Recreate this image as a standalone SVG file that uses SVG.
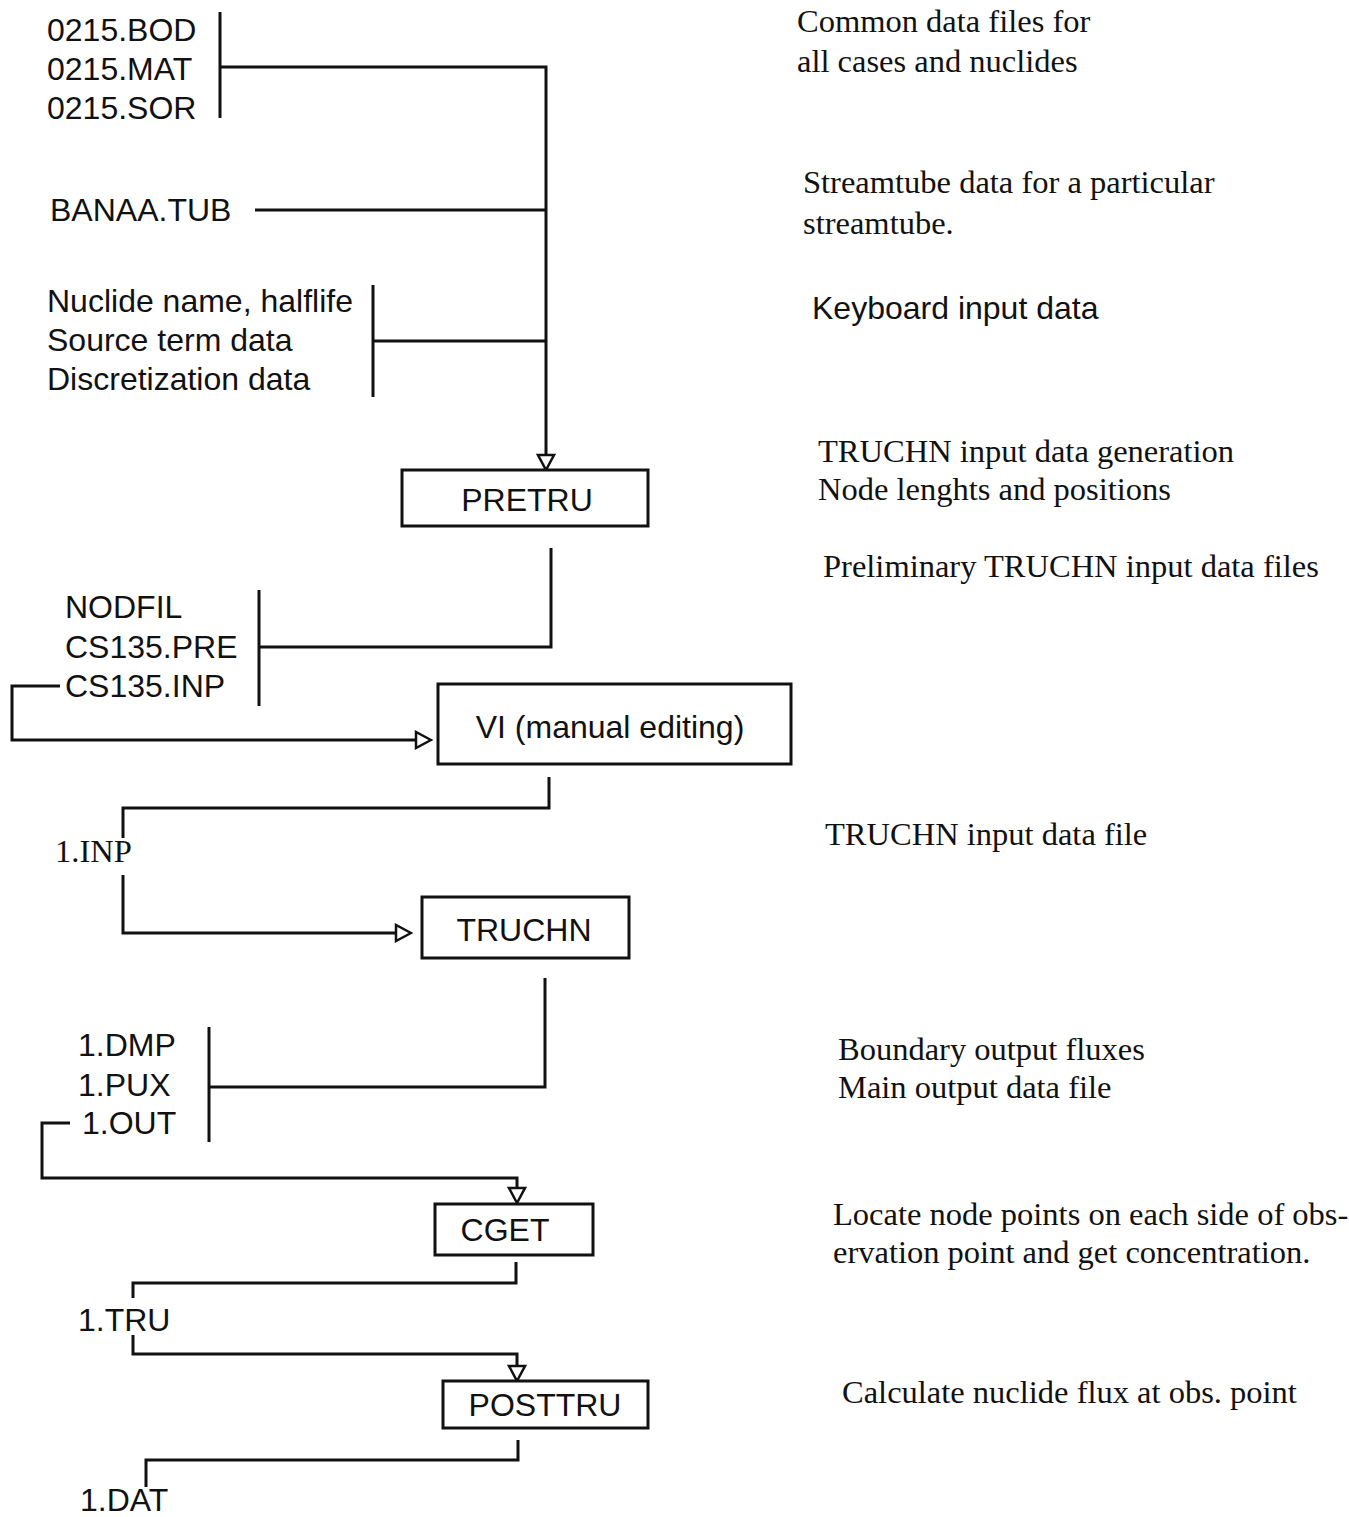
<svg xmlns="http://www.w3.org/2000/svg" width="1349" height="1517" viewBox="0 0 1349 1517">
<style>
.s{font-family:"Liberation Sans",Arial,sans-serif;font-size:32px;fill:#111}
.r{font-family:"Liberation Serif","Times New Roman",serif;font-size:32.5px;fill:#111}
.c{text-anchor:middle}
.ln{fill:none;stroke:#111;stroke-width:3}
.box{fill:#fff;stroke:#111;stroke-width:3}
</style>
<defs>
<marker id="ah" viewBox="-17 -10 19 20" refX="-15" refY="0" markerWidth="19" markerHeight="20" markerUnits="userSpaceOnUse" orient="auto">
<path d="M0,0 L-15,-8 L-15,8 Z" fill="#fff" stroke="#111" stroke-width="2.5" stroke-linejoin="miter"/>
</marker>
</defs>
<rect width="1349" height="1517" fill="#fff"/>

<g id="connectors">
<line class="ln" x1="220" y1="12" x2="220" y2="118"/>
<polyline class="ln" points="220,67 546,67 546,455" marker-end="url(#ah)"/>
<line class="ln" x1="255" y1="210" x2="546" y2="210"/>
<line class="ln" x1="373" y1="285" x2="373" y2="397"/>
<line class="ln" x1="373" y1="341" x2="546" y2="341"/>
<polyline class="ln" points="551,548 551,647 259,647"/>
<line class="ln" x1="259" y1="590" x2="259" y2="706"/>
<polyline class="ln" points="60,686 12,686 12,740 416,740" marker-end="url(#ah)"/>
<polyline class="ln" points="549,777 549,808 123,808 123,838"/>
<polyline class="ln" points="123,875 123,933 396,933" marker-end="url(#ah)"/>
<polyline class="ln" points="545,978 545,1087 209,1087"/>
<line class="ln" x1="209" y1="1027" x2="209" y2="1142"/>
<polyline class="ln" points="70,1123 42,1123 42,1178 517,1178 517,1188" marker-end="url(#ah)"/>
<polyline class="ln" points="516,1262 516,1283 133,1283 133,1298"/>
<polyline class="ln" points="133,1335 133,1354 517,1354 517,1366" marker-end="url(#ah)"/>
<polyline class="ln" points="518,1440 518,1460 146,1460 146,1487"/>
</g>

<g id="common-files">
<text class="s" x="47" y="41">0215.BOD</text>
<text class="s" x="47" y="80">0215.MAT</text>
<text class="s" x="47" y="119">0215.SOR</text>
</g>
<g id="banaa-tub"><text class="s" x="50" y="221">BANAA.TUB</text></g>
<g id="keyboard-input">
<text class="s" x="47" y="312">Nuclide name, halflife</text>
<text class="s" x="47" y="351">Source term data</text>
<text class="s" x="47" y="390">Discretization data</text>
</g>
<g id="pretru"><rect class="box" x="402" y="470" width="246" height="56"/><text class="s c" x="527" y="511">PRETRU</text></g>
<g id="pre-files">
<text class="s" x="65" y="618">NODFIL</text>
<text class="s" x="65" y="658">CS135.PRE</text>
<text class="s" x="65" y="697">CS135.INP</text>
</g>
<g id="vi"><rect class="box" x="438" y="684" width="353" height="80"/><text class="s c" x="610" y="738">VI (manual editing)</text></g>
<g id="inp"><text class="r" x="55" y="862">1.INP</text></g>
<g id="truchn"><rect class="box" x="422" y="897" width="207" height="61"/><text class="s c" x="524" y="941">TRUCHN</text></g>
<g id="out-files">
<text class="s" x="78" y="1056">1.DMP</text>
<text class="s" x="78" y="1096">1.PUX</text>
<text class="s" x="82" y="1134">1.OUT</text>
</g>
<g id="cget"><rect class="box" x="435" y="1204" width="158" height="51"/><text class="s c" x="505" y="1241">CGET</text></g>
<g id="tru"><text class="s" x="78" y="1331">1.TRU</text></g>
<g id="posttru"><rect class="box" x="443" y="1381" width="205" height="47"/><text class="s c" x="545" y="1416">POSTTRU</text></g>
<g id="dat"><text class="s" x="80" y="1511">1.DAT</text></g>

<g id="notes">
<text class="r" x="797" y="32">Common data files for</text>
<text class="r" x="797" y="72">all cases and nuclides</text>
<text class="r" x="803" y="193">Streamtube data for a particular</text>
<text class="r" x="803" y="234">streamtube.</text>
<text class="s" x="812" y="319">Keyboard input data</text>
<text class="r" x="818" y="462">TRUCHN input data generation</text>
<text class="r" x="818" y="500">Node lenghts and positions</text>
<text class="r" x="823" y="577">Preliminary TRUCHN input data files</text>
<text class="r" x="825" y="845">TRUCHN input data file</text>
<text class="r" x="838" y="1060">Boundary output fluxes</text>
<text class="r" x="838" y="1098">Main output data file</text>
<text class="r" x="833" y="1225">Locate node points on each side of obs-</text>
<text class="r" x="833" y="1263">ervation point and get concentration.</text>
<text class="r" x="842" y="1403">Calculate nuclide flux at obs. point</text>
</g>
</svg>
